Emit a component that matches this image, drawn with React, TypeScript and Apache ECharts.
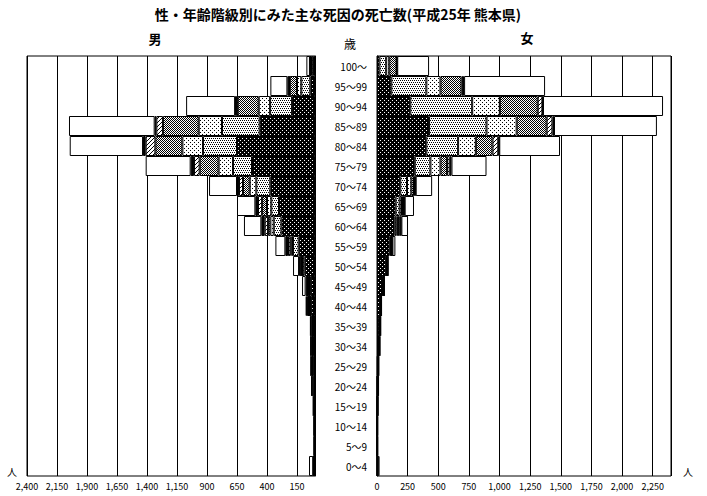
import { useEffect, useRef } from "react";
import * as echarts from "echarts";

// 年齢階級（下から上へ）
const ages = [
  "0～4", "5～9", "10～14", "15～19", "20～24", "25～29", "30～34",
  "35～39", "40～44", "45～49", "50～54", "55～59", "60～64", "65～69",
  "70～74", "75～79", "80～84", "85～89", "90～94", "95～99", "100～",
];

const causes = ["悪性新生物", "心疾患", "肺炎", "脳血管疾患", "不慮の事故", "自殺", "その他"];

// 男
const maleCancer = [2, 2, 2, 1, 1, 2, 4, 6, 32, 36, 86, 136, 280, 300, 372, 525, 650, 461, 191, 39, 8];
const maleHeart = [3, 0, 0, 0, 0, 1, 1, 2, 6, 8, 16, 47, 64, 64, 117, 158, 283, 314, 183, 75, 18];
const malePneumonia = [2, 0, 0, 0, 0, 0, 0, 0, 2, 2, 4, 12, 28, 36, 55, 120, 172, 194, 95, 36, 8];
const maleCerebro = [0, 0, 0, 0, 0, 0, 0, 1, 2, 2, 4, 10, 19, 41, 56, 158, 225, 298, 175, 60, 6];
const maleAccident = [8, 3, 3, 5, 5, 4, 3, 2, 2, 2, 4, 20, 28, 34, 33, 47, 81, 55, 14, 5, 2];
const maleSuicide = [0, 1, 2, 7, 21, 26, 26, 25, 23, 28, 19, 22, 28, 22, 17, 28, 22, 14, 8, 15, 0];
const maleOther = [35, 5, 4, 3, 3, 3, 4, 4, 11, 30, 50, 83, 145, 153, 233, 375, 611, 714, 408, 142, 30];

// 女
const femaleCancer = [1, 2, 2, 2, 3, 5, 12, 18, 28, 48, 76, 103, 144, 152, 190, 308, 403, 425, 272, 117, 20];
const femaleHeart = [2, 0, 0, 0, 0, 0, 1, 2, 2, 3, 4, 8, 14, 33, 55, 128, 259, 469, 505, 286, 55];
const femalePneumonia = [1, 0, 0, 0, 0, 0, 0, 0, 1, 1, 2, 4, 13, 19, 35, 82, 145, 246, 226, 115, 25];
const femaleCerebro = [0, 0, 0, 0, 0, 0, 0, 1, 1, 2, 2, 4, 14, 8, 22, 54, 136, 245, 309, 172, 60];
const femaleAccident = [3, 2, 1, 2, 3, 2, 2, 2, 1, 2, 2, 4, 8, 8, 8, 22, 47, 47, 38, 13, 2];
const femaleSuicide = [0, 0, 1, 3, 5, 6, 7, 5, 3, 2, 2, 3, 6, 6, 6, 14, 8, 13, 5, 8, 3];
const femaleOther = [14, 4, 4, 3, 3, 3, 4, 4, 2, 5, 4, 24, 54, 76, 134, 286, 496, 840, 980, 661, 260];

const maleData = [maleCancer, maleHeart, malePneumonia, maleCerebro, maleAccident, maleSuicide, maleOther];
const femaleData = [femaleCancer, femaleHeart, femalePneumonia, femaleCerebro, femaleAccident, femaleSuicide, femaleOther];

const AXIS_MAX = 2400;
const TICK_STEP = 250;
const FONT = "'Noto Sans CJK JP', 'Noto Sans', sans-serif";

function makePattern(size: number, bg: string, fg: string, dots: number[][]) {
  const c = document.createElement("canvas");
  c.width = size;
  c.height = size;
  const ctx = c.getContext("2d")!;
  ctx.fillStyle = bg;
  ctx.fillRect(0, 0, size, size);
  ctx.fillStyle = fg;
  dots.forEach(([x, y]) => ctx.fillRect(x, y, 1, 1));
  return { image: c, repeat: "repeat", imageWidth: size, imageHeight: size };
}

const fmt = (v: number) => v.toLocaleString("en-US");

export default function App() {
  const chartRef = useRef<HTMLDivElement>(null);

  useEffect(() => {
    document.body.style.margin = "0";
    if (!chartRef.current) return;
    const chart = echarts.init(chartRef.current, null, { renderer: "svg" });

    // 模様
    const fills: any[] = [
      makePattern(4, "#000", "#fff", [[0, 0], [2, 2]]),
      makePattern(4, "#fff", "#000", [[0, 0], [2, 0], [1, 2], [3, 2]]),
      makePattern(4, "#fff", "#000", [[0, 0], [2, 2]]),
      makePattern(2, "#fff", "#000", [[0, 0], [1, 1]]),
      makePattern(4, "#fff", "#000", [[3, 0], [2, 1], [1, 2], [0, 3]]),
      "#000",
      "#fff",
    ];

    const makeSeries = (data: number[][], side: string, xIdx: number, yIdx: number) =>
      data.map((values, i) => ({
        name: causes[i],
        type: "bar",
        stack: side,
        xAxisIndex: xIdx,
        yAxisIndex: yIdx,
        barCategoryGap: "0%",
        silent: true,
        data: values,
        itemStyle: { color: fills[i], borderColor: "#000", borderWidth: 1 },
      }));

    const valueLabel = (formatter: (v: number) => string) => ({
      color: "#000",
      fontSize: 9,
      margin: 6,
      showMaxLabel: false,
      fontFamily: FONT,
      formatter,
    });

    const option: any = {
      animation: false,
      backgroundColor: "#fff",
      textStyle: { fontFamily: FONT },
      grid: [
        { left: 27, right: 392, top: 56, bottom: 20, show: true, borderColor: "#000", borderWidth: 1 },
        { left: 377, right: 36, top: 56, bottom: 20, show: true, borderColor: "#000", borderWidth: 1 },
      ],
      xAxis: [
        { gridIndex: 0, type: "value", position: "top", inverse: true, min: 0, max: AXIS_MAX, show: false },
        {
          gridIndex: 0,
          type: "value",
          position: "bottom",
          min: 0,
          max: AXIS_MAX,
          interval: TICK_STEP,
          axisLine: { show: false },
          axisTick: { show: false },
          splitLine: { show: true, lineStyle: { color: "#000", width: 1 } },
          axisLabel: valueLabel((v: number) => fmt(AXIS_MAX - v)),
        },
        {
          gridIndex: 1,
          type: "value",
          position: "bottom",
          min: 0,
          max: AXIS_MAX,
          interval: TICK_STEP,
          axisLine: { show: false },
          axisTick: { show: false },
          splitLine: { show: true, lineStyle: { color: "#000", width: 1 } },
          axisLabel: valueLabel((v: number) => fmt(v)),
        },
      ],
      yAxis: [
        {
          gridIndex: 0,
          type: "category",
          data: ages,
          position: "right",
          axisLine: { show: true, lineStyle: { color: "#000" } },
          axisTick: { show: false },
          axisLabel: { show: false },
        },
        {
          gridIndex: 1,
          type: "category",
          data: ages,
          position: "left",
          axisLine: { show: true, lineStyle: { color: "#000" } },
          axisTick: { show: false },
          axisLabel: { color: "#000", fontSize: 10, margin: 10, fontFamily: FONT },
        },
      ],
      graphic: [
        {
          type: "text",
          x: 338,
          y: 14,
          style: {
            text: "性・年齢階級別にみた主な死因の死亡数(平成25年 熊本県)",
            fontSize: 14,
            fontWeight: "bold",
            fontFamily: FONT,
            fill: "#000",
            align: "center",
            verticalAlign: "middle",
          },
        },
        { type: "text", x: 155, y: 38, style: { text: "男", fontSize: 13, fontWeight: "bold", fontFamily: FONT, fill: "#000", align: "center", verticalAlign: "middle" } },
        { type: "text", x: 527, y: 37, style: { text: "女", fontSize: 13, fontWeight: "bold", fontFamily: FONT, fill: "#000", align: "center", verticalAlign: "middle" } },
        { type: "text", x: 350, y: 43, style: { text: "歳", fontSize: 12, fontFamily: FONT, fill: "#000", align: "center", verticalAlign: "middle" } },
        { type: "text", x: 12, y: 471, style: { text: "人", fontSize: 10, fontFamily: FONT, fill: "#000", align: "center", verticalAlign: "middle" } },
        { type: "text", x: 688, y: 471, style: { text: "人", fontSize: 10, fontFamily: FONT, fill: "#000", align: "center", verticalAlign: "middle" } },
      ],
      series: [...makeSeries(maleData, "male", 0, 0), ...makeSeries(femaleData, "female", 2, 1)],
    };

    chart.setOption(option);
    return () => {
      chart.dispose();
    };
  }, []);

  return (
    <div
      ref={chartRef}
      style={{ position: "fixed", left: 0, top: 0, width: 707, height: 496, background: "#fff" }}
    />
  );
}
